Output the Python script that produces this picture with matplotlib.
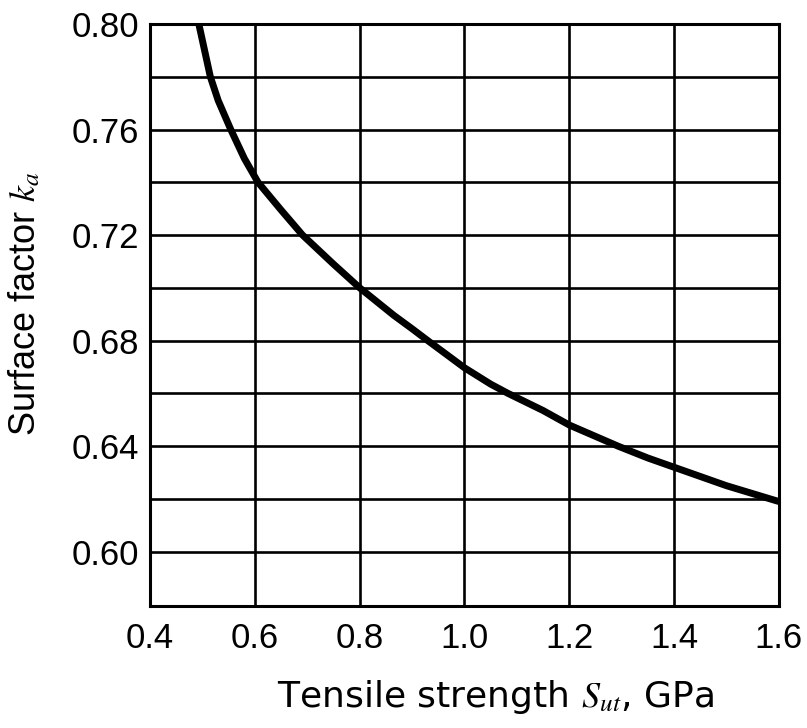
import numpy as np
import matplotlib
matplotlib.use("Agg")
import matplotlib.pyplot as plt

# values
sut = [0.493, 0.515, 0.53, 0.554, 0.58, 0.606, 0.65, 0.691, 0.75, 0.80, 0.865, 0.90, 0.93,
       1.0, 1.05, 1.083, 1.15, 1.2, 1.293, 1.35, 1.4, 1.45, 1.5, 1.55, 1.6]
ka = [0.800, 0.780, 0.771, 0.760, 0.749, 0.740, 0.7295, 0.720, 0.709, 0.700, 0.6896, 0.6845, 0.680,
      0.6697, 0.6635, 0.660, 0.6535, 0.648, 0.640, 0.6355, 0.632, 0.6285, 0.625, 0.622, 0.619]

xticks = [0.4, 0.6, 0.8, 1.0, 1.2, 1.4, 1.6]
xlabels = ["0.4", "0.6", "0.8", "1.0", "1.2", "1.4", "1.6"]
yticks = [0.60, 0.64, 0.68, 0.72, 0.76, 0.80]
ylabels = ["0.60", "0.64", "0.68", "0.72", "0.76", "0.80"]
ygrid = [0.62, 0.66, 0.70, 0.74, 0.78]

plt.rcParams['font.family'] = ['Liberation Sans', 'DejaVu Sans']
plt.rcParams['mathtext.fontset'] = 'stix'

fig = plt.figure(figsize=(8.07, 7.28), dpi=100)
ax = fig.add_axes([0.186, 0.168, 0.779, 0.799])

ax.plot(sut, ka, color="black", lw=5, solid_capstyle="butt", solid_joinstyle="round", zorder=3)

ax.set_xlim(0.4, 1.6)
ax.set_ylim(0.5795, 0.80)
ax.set_xticks(xticks)
ax.set_xticklabels(xlabels)
ax.set_yticks(yticks)
ax.set_yticklabels(ylabels)
ax.set_yticks(ygrid, minor=True)
ax.tick_params(which="both", length=0, labelsize=25)
ax.tick_params(axis="x", pad=12)
ax.tick_params(axis="y", pad=8)

ax.grid(True, which="both", color="black", lw=1.9)
for s in ax.spines.values():
	s.set_linewidth(2.2)

ax.set_ylabel(r"Surface factor $k_{\mathit{a}}$", fontsize=26)
ax.yaxis.set_label_coords(-0.17, 0.52)
ax.set_xlabel(r"Tensile strength $\mathit{S}_{ut}$, GPa", fontsize=26, family=["DejaVu Sans"])
ax.xaxis.set_label_coords(0.55, -0.125)

fig.savefig("out.png", dpi=100)
